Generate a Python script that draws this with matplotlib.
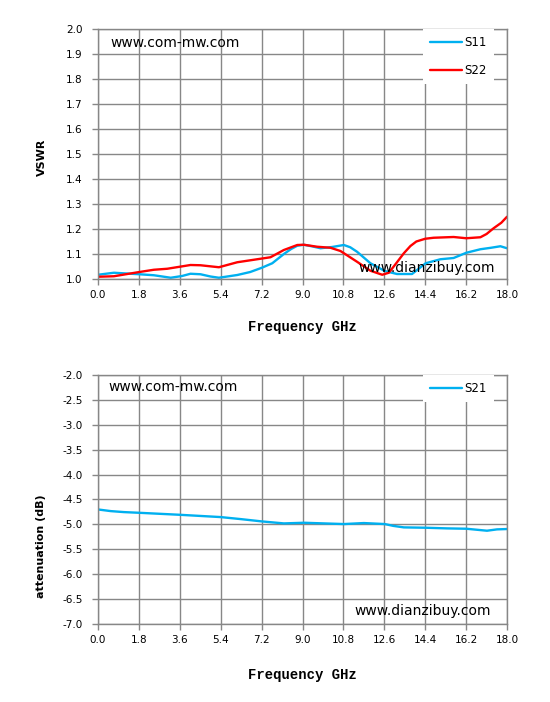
import numpy as np
import matplotlib
matplotlib.use('Agg')
import matplotlib.pyplot as plt

# values (GHz, VSWR / dB)
f_s11 = [0.0, 0.70, 1.82, 2.46, 3.20, 3.70, 4.07, 4.51, 4.95, 5.32, 6.13, 6.70, 7.21, 7.67, 8.18, 8.50, 8.77, 9.06,
         9.40, 9.79, 10.30, 10.82, 11.10, 11.40, 11.99, 12.62, 13.16, 13.82, 14.10, 14.42, 15.07, 15.65, 16.21,
         16.83, 17.30, 17.71, 18.0]
s11 = [1.017, 1.025, 1.019, 1.015, 1.005, 1.012, 1.021, 1.019, 1.010, 1.005, 1.016, 1.028, 1.045, 1.063,
       1.100, 1.120, 1.133, 1.137, 1.131, 1.123, 1.128, 1.136, 1.127, 1.109, 1.063, 1.032, 1.020, 1.020, 1.040,
       1.063, 1.079, 1.084, 1.105, 1.119, 1.125, 1.131, 1.123]

f_s22 = [0.0, 0.70, 1.82, 2.46, 3.05, 4.07, 4.51, 5.32, 6.13, 6.86, 7.59, 8.18, 8.77, 9.06,
         9.65, 10.23, 10.67, 11.40, 11.99, 12.51, 12.80, 13.10, 13.46, 13.75, 14.01, 14.40, 14.77, 15.65,
         16.21, 16.83, 17.10, 17.41, 17.75, 18.0]
s22 = [1.009, 1.011, 1.028, 1.037, 1.041, 1.056, 1.055, 1.047, 1.067, 1.077, 1.087, 1.116, 1.136, 1.137,
       1.129, 1.125, 1.112, 1.069, 1.033, 1.017, 1.025, 1.060, 1.103, 1.132, 1.150, 1.161, 1.165, 1.168,
       1.163, 1.167, 1.180, 1.203, 1.225, 1.249]

f_s21 = [0.0, 0.56, 1.14, 1.82, 3.60, 5.40, 6.27, 7.21, 8.18, 9.06, 9.94, 10.82, 11.70, 12.62,
         13.00, 13.46, 14.42, 15.36, 16.21, 17.12, 17.56, 18.0]
s21 = [-4.70, -4.733, -4.753, -4.767, -4.807, -4.853, -4.893, -4.94, -4.98, -4.967, -4.98, -4.993, -4.973, -4.993,
       -5.03, -5.06, -5.067, -5.08, -5.087, -5.127, -5.10, -5.093]

x_ticks = [0.0, 1.8, 3.6, 5.4, 7.2, 9.0, 10.8, 12.6, 14.4, 16.2, 18.0]

blue = '#00B0F0'
red = '#FF0000'
grid_c = '#878787'

fig = plt.figure(figsize=(5.5, 7.02), dpi=100)
W, H = 550, 702
ax1 = fig.add_axes([98 / W, 1 - 279 / H, 409 / W, 250 / H])
ax2 = fig.add_axes([98 / W, 1 - 624 / H, 409 / W, 249 / H])


def style(ax, yticks):
    ax.set_xlim(0, 18)
    ax.set_xticks(x_ticks)
    ax.set_xticklabels([f'{v:.1f}' for v in x_ticks])
    ax.set_ylim(yticks[0], yticks[-1])
    ax.set_yticks(yticks)
    ax.set_yticklabels([f'{v:.1f}' for v in yticks])
    ax.grid(True, color=grid_c, linewidth=1.0)
    ax.set_axisbelow(True)
    for s in ax.spines.values():
        s.set_color(grid_c)
        s.set_linewidth(1.0)
    ax.tick_params(axis='both', colors=grid_c, labelcolor='black', labelsize=7.5,
                   length=4, width=1.0, direction='out')
    ax.tick_params(axis='y', pad=7)
    ax.tick_params(axis='x', pad=4)


style(ax1, np.round(np.arange(1.0, 2.01, 0.1), 1))
style(ax2, np.round(np.arange(-7.0, -1.99, 0.5), 1))

ax1.plot(f_s11, s11, color=blue, lw=1.7, label='S11', solid_capstyle='round', solid_joinstyle='round')
ax1.plot(f_s22, s22, color=red, lw=1.7, label='S22', solid_capstyle='round', solid_joinstyle='round')
ax2.plot(f_s21, s21, color=blue, lw=1.7, label='S21', solid_capstyle='round', solid_joinstyle='round')

for ax in (ax1, ax2):
    leg = ax.legend(loc='upper right', bbox_to_anchor=(0.968, 1.0), borderaxespad=0,
                    fontsize=8.5, frameon=True, fancybox=False, handlelength=2.7,
                    handletextpad=0.2, labelspacing=1.25, borderpad=0.6)
    leg.get_frame().set_facecolor('white')
    leg.get_frame().set_edgecolor('none')
    leg.get_frame().set_alpha(1.0)

# watermarks
fig.text(110 / W, 1 - 43 / H, 'www.com-mw.com', fontsize=10, va='center', ha='left')
fig.text(358 / W, 1 - 268 / H, 'www.dianzibuy.com', fontsize=10, va='center', ha='left', zorder=10)
fig.text(108 / W, 1 - 387 / H, 'www.com-mw.com', fontsize=10, va='center', ha='left')
fig.text(354 / W, 1 - 611 / H, 'www.dianzibuy.com', fontsize=10, va='center', ha='left', zorder=10)

# axis titles
fig.text(302.5 / W, 1 - 327 / H, 'Frequency GHz', family='Liberation Mono', weight='bold',
         fontsize=10, ha='center', va='center')
fig.text(302.5 / W, 1 - 675 / H, 'Frequency GHz', family='Liberation Mono', weight='bold',
         fontsize=10, ha='center', va='center')
fig.text(41.5 / W, 1 - 157.5 / H, 'VSWR', weight='bold', fontsize=8, rotation=90,
         ha='center', va='center')
fig.text(41.5 / W, 1 - 546.5 / H, 'attenuation (dB)', weight='bold', fontsize=8, rotation=90,
         ha='center', va='center')

fig.savefig('out.png', dpi=100)
